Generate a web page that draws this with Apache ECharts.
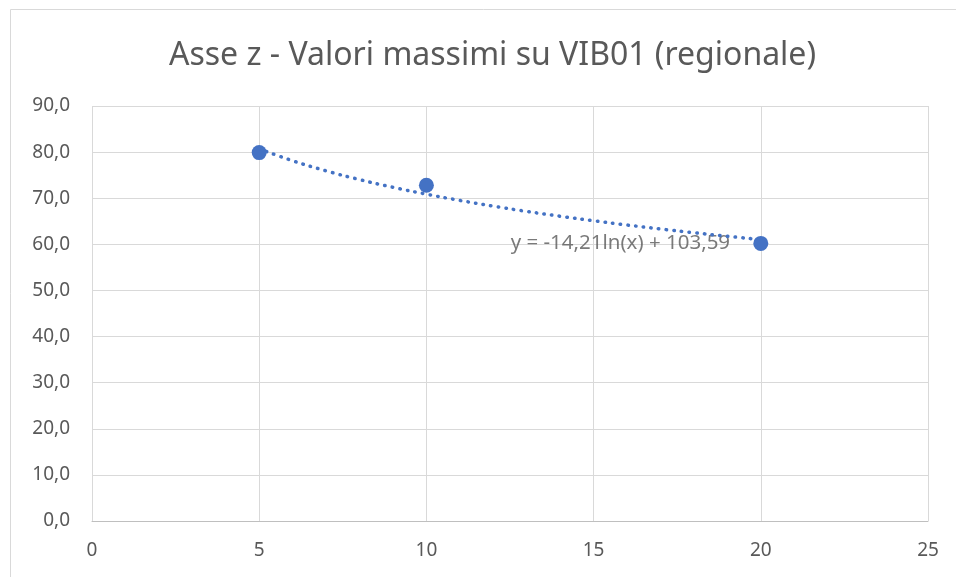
<!DOCTYPE html>
<html>
<head>
<meta charset="utf-8">
<script src="https://cdn.jsdelivr.net/npm/echarts@6/dist/echarts.min.js"></script>
<style>
  html, body { margin: 0; padding: 0; background: #fff; }
  #chart { width: 956px; height: 577px; }
</style>
</head>
<body>
<div id="chart"></div>
<script>
const titleText = "Asse z - Valori massimi su VIB01 (regionale)";
const pointX = [5, 10, 20];
const pointY = [79.9, 72.8, 60.2];
// dotted log trendline y = -14,21ln(x) + 103,59, read at whole x
const trendX = [5, 6, 7, 8, 9, 10, 11, 12, 13, 14, 15, 16, 17, 18, 19, 20];
const trendY = [80.72, 78.13, 75.94, 74.04, 72.37, 70.87, 69.52, 68.28, 67.14, 66.09, 65.11, 64.19, 63.33, 62.52, 61.75, 61.02];
const trendLabel = "y = -14,21ln(x) + 103,59";
const labelAt = [15.8, 60.3];

const blue = "#4472C4";
const grey = "#595959";
const font = "Noto Sans";

echarts.init(document.getElementById("chart")).setOption({
  animation: false,
  textStyle: { fontFamily: font },
  title: {
    text: titleText, left: 164, top: 35,
    textStyle: { fontSize: 32, fontWeight: "normal", color: grey, fontFamily: font }
  },
  graphic: [{
    type: "rect", left: 8, top: 7, shape: { width: 1000, height: 1000 },
    style: { fill: "none", stroke: "#d9d9d9", lineWidth: 1 }, silent: true
  }],
  grid: { left: 92, right: 28, top: 106, bottom: 56 },
  xAxis: {
    type: "value", min: 0, max: 25, interval: 5,
    axisLine: { show: true, lineStyle: { color: "#bfbfbf" } },
    axisTick: { show: false },
    splitLine: { show: true, lineStyle: { color: "#d9d9d9" } },
    axisLabel: { color: grey, fontSize: 19, margin: 20 }
  },
  yAxis: {
    type: "value", min: 0, max: 90, interval: 10,
    axisLine: { show: false }, axisTick: { show: false },
    splitLine: { show: true, lineStyle: { color: "#d9d9d9" } },
    axisLabel: { color: grey, fontSize: 19, margin: 22, formatter: v => v.toFixed(1).replace(".", ",") }
  },
  series: [
    {
      type: "line", data: trendX.map((x, i) => [x, trendY[i]]), smooth: true,
      showSymbol: false, silent: true,
      lineStyle: { color: blue, width: 3.5, type: [0.5, 7.2], cap: "round" }
    },
    {
      type: "scatter", data: pointX.map((x, i) => [x, pointY[i]]),
      symbolSize: 15, itemStyle: { color: blue, opacity: 1 }
    },
    {
      type: "scatter", data: [labelAt], symbolSize: 0, silent: true,
      label: { show: true, position: "inside", formatter: trendLabel, color: grey, fontSize: 20.5 }
    }
  ]
});
</script>
</body>
</html>
